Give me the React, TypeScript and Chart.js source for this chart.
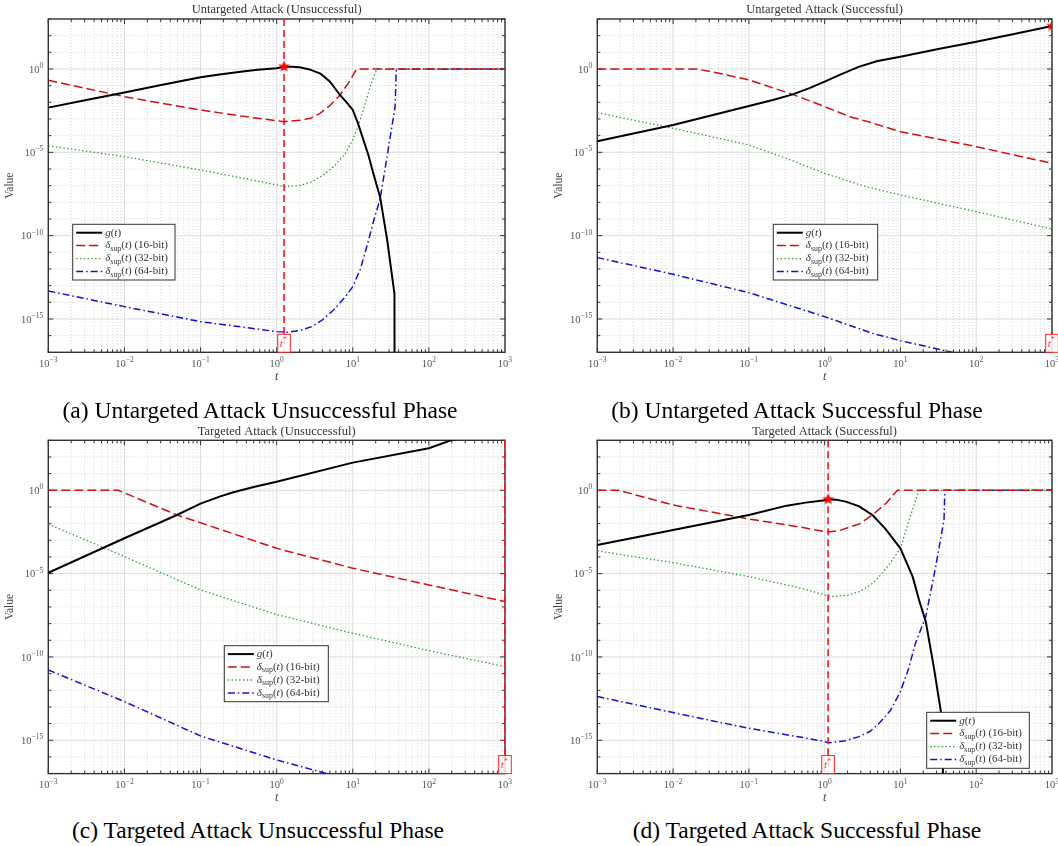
import React, { useEffect, useRef } from 'react';
import { Chart, registerables } from 'chart.js';
Chart.register(...registerables);

// ---------- axes ----------
const X_MIN = 1e-3;
const X_MAX = 1e3;
const Y_MIN = 1e-17;
const Y_MAX = 1e3;
const X_TICKS = [1e-3, 1e-2, 1e-1, 1, 1e1, 1e2, 1e3];
const Y_TICKS = [1e-15, 1e-10, 1e-5, 1];

const SERIES_NAMES = ['g(t)', 'δsup(t) (16-bit)', 'δsup(t) (32-bit)', 'δsup(t) (64-bit)'];
const PANEL_TITLES = [
  'Untargeted Attack (Unsuccessful)',
  'Untargeted Attack (Successful)',
  'Targeted Attack (Unsuccessful)',
  'Targeted Attack (Successful)',
];
const CAPTIONS = [
  '(a) Untargeted Attack Unsuccessful Phase',
  '(b) Untargeted Attack Successful Phase',
  '(c) Targeted Attack Unsuccessful Phase',
  '(d) Targeted Attack Successful Phase',
];

// ---------- (a) Untargeted Attack (Unsuccessful) ----------
const A_G_T = [0.001, 0.00316, 0.01, 0.0316, 0.1, 0.178, 0.316, 0.562, 1, 1.25, 1.6, 2, 2.8, 3.7, 5, 6.8, 8.3, 10, 11.8, 13.8, 16, 18.6, 22.9, 28.2, 35.3, 36];
const A_G_V = [4.8e-3, 1.38e-2, 3.9e-2, 0.112, 0.316, 0.468, 0.66, 0.891, 1.12, 1.38, 1.35, 1.26, 0.89, 0.55, 0.178, 2.75e-2, 1.0e-2, 3.47e-3, 5e-4, 5.5e-5, 7.1e-6, 5.5e-7, 2.0e-8, 6.3e-11, 3.2e-14, 1e-40];
const A_R_T = [0.001, 0.01, 0.1, 0.316, 0.562, 1, 1.25, 2, 2.8, 3.7, 5, 6.8, 8.9, 11.2, 1000];
const A_R_V = [0.209, 2.19e-2, 3.47e-3, 1.58e-3, 1.1e-3, 7.9e-4, 6.9e-4, 8.3e-4, 1.12e-3, 2.19e-3, 6.3e-3, 2.75e-2, 0.158, 1, 1];
const A_P_T = [0.001, 0.01, 0.1, 0.316, 1, 1.25, 2, 2.9, 4, 5.6, 7.9, 10, 11.8, 13.8, 16.9, 20.7, 1000];
const A_P_V = [2.5e-5, 5.5e-6, 8.7e-7, 3.16e-7, 1.1e-7, 8.7e-8, 1e-7, 1.74e-7, 4e-7, 1.38e-6, 7.9e-6, 5.5e-5, 4e-4, 3.47e-3, 8.7e-2, 1, 1];
const A_D_T = [0.001, 0.01, 0.1, 0.316, 1, 1.35, 2, 2.9, 4, 5.6, 7.9, 10, 12.6, 15.3, 19.1, 22.9, 28.8, 36, 37.3, 1000];
const A_D_V = [4.8e-14, 5.5e-15, 6.9e-16, 3.5e-16, 1.74e-16, 1.58e-16, 2e-16, 3.47e-16, 8.9e-16, 3.47e-15, 2e-14, 8.7e-14, 1e-12, 2.19e-11, 1e-9, 1.58e-8, 1e-5, 5.5e-3, 1, 1];
const A_TSTAR = 1.25;
const A_GSTAR = 1.38;

// ---------- (b) Untargeted Attack (Successful) ----------
const B_G_T = [0.001, 0.01, 0.1, 0.207, 0.38, 0.63, 1, 1.58, 2.86, 5, 10, 31.6, 100, 316, 1000];
const B_G_V = [4.57e-5, 4.37e-4, 6.0e-3, 1.38e-2, 3.0e-2, 7.1e-2, 0.174, 0.447, 1.38, 3.0, 5.5, 15.8, 43.7, 126, 380];
const B_R_T = [0.001, 0.0204, 0.04, 0.1, 0.38, 1, 2.14, 4, 10, 100, 1000];
const B_R_V = [1, 1, 0.562, 0.219, 3.0e-2, 5.5e-3, 1.38e-3, 6.3e-4, 1.74e-4, 2.19e-5, 2.19e-6];
const B_P_T = [0.001, 0.01, 0.1, 0.31, 1, 3.16, 10, 100, 1000];
const B_P_V = [2.4e-3, 2.75e-4, 2.75e-5, 4.37e-6, 5.5e-7, 1e-7, 2.75e-8, 2.75e-9, 2.5e-10];
const B_D_T = [0.001, 0.01, 0.1, 1, 4.27, 10, 47.9, 100, 1000];
const B_D_V = [4.8e-12, 4.8e-13, 3.8e-14, 1.38e-15, 1.38e-16, 5e-17, 1e-17, 5e-18, 1e-18];
const B_TSTAR = 1000;
const B_GSTAR = 380;

// ---------- (c) Targeted Attack (Unsuccessful) ----------
const C_G_T = [0.001, 0.01, 0.049, 0.1, 0.178, 0.27, 0.5, 1, 10, 100, 190, 1000];
const C_G_V = [1.12e-5, 1.32e-3, 3.3e-2, 0.158, 0.417, 0.759, 1.585, 3.3, 45.7, 331, 955, 6300];
const C_R_T = [0.001, 0.0083, 0.049, 0.1, 1, 10, 100, 1000];
const C_R_V = [1, 1, 3.3e-2, 1.12e-2, 3.3e-4, 2.1e-5, 2.1e-6, 2.1e-7];
const C_P_T = [0.001, 0.01, 0.1, 1, 10, 100, 1000];
const C_P_V = [9.5e-3, 1.05e-4, 1.05e-6, 3.5e-8, 2.63e-9, 2.4e-10, 2.63e-11];
const C_D_T = [0.001, 0.01, 0.1, 1, 4.07, 10, 1000];
const C_D_V = [1.66e-11, 2.1e-13, 1.82e-15, 6.6e-17, 1.15e-17, 4e-18, 3.2e-20];
const C_TSTAR = 1000;
const C_GSTAR = null;

// ---------- (d) Targeted Attack (Successful) ----------
const D_G_T = [0.001, 0.01, 0.1, 0.316, 0.562, 1, 1.11, 1.41, 1.9, 2.82, 4.27, 6.3, 10, 14.5, 17.6, 21.6, 27.5, 33.9, 36.3, 36.7];
const D_G_V = [5.2e-4, 4.2e-3, 3.3e-2, 0.12, 0.182, 0.251, 0.288, 0.275, 0.209, 0.112, 3.3e-2, 5e-3, 3.3e-4, 6.6e-6, 2.63e-7, 1.32e-8, 2.63e-11, 6.6e-14, 5e-15, 1e-40];
const D_R_T = [0.001, 0.0019, 0.01, 0.068, 0.1, 0.5, 1, 1.11, 1.55, 2.86, 4.27, 6.46, 9.1, 1000];
const D_R_V = [1, 1, 0.132, 2.63e-2, 1.9e-2, 6.0e-3, 3.3e-3, 3.16e-3, 3.8e-3, 9.5e-3, 3.3e-2, 0.166, 1, 1];
const D_P_T = [0.001, 0.01, 0.1, 0.5, 1, 1.26, 2, 2.86, 4, 5.25, 7.24, 10, 13, 17.6, 1000];
const D_P_V = [2.3e-4, 4.57e-5, 6.6e-6, 1.3e-6, 5.2e-7, 4.2e-7, 5e-7, 8.3e-7, 2e-6, 6.6e-6, 4e-5, 3.3e-4, 1.66e-2, 1, 1];
const D_D_T = [0.001, 0.01, 0.1, 0.5, 1, 1.15, 1.78, 2.86, 4, 5.25, 7.4, 10, 12.6, 15.8, 21.6, 29.2, 37.6, 38.5, 1000];
const D_D_V = [4.2e-13, 4.57e-14, 5.2e-15, 1.5e-15, 8.3e-16, 7.2e-16, 8.9e-16, 1.66e-15, 3.5e-15, 1.05e-14, 6.3e-14, 8.3e-13, 1.58e-11, 6.6e-10, 2.63e-8, 2.63e-5, 1.66e-2, 1, 1];
const D_TSTAR = 1.11;
const D_GSTAR = 0.288;

// ---------- styles ----------
const FONT = "'Liberation Serif', 'Times New Roman', serif";
const STYLES = [
  { color: '#000000', width: 2, dash: [] as number[] },
  { color: '#cc1111', width: 1.5, dash: [9, 4] },
  { color: '#2a9a2a', width: 1.3, dash: [1.4, 2.4] },
  { color: '#1212c8', width: 1.5, dash: [7, 3, 1.5, 3] },
];
const VLINE = { color: '#ff1010', width: 1.6, dash: [7, 4] };

const pts = (t: number[], v: number[]) => t.map((x, i) => ({ x, y: v[i] }));

const PANELS = [
  {
    title: PANEL_TITLES[0], caption: CAPTIONS[0],
    series: [pts(A_G_T, A_G_V), pts(A_R_T, A_R_V), pts(A_P_T, A_P_V), pts(A_D_T, A_D_V)],
    tStar: A_TSTAR, gStar: A_GSTAR,
    canvas: { x: 0, y: 0, w: 530, h: 392 },
    area: { l: 48.3, t: 19, r: 505, b: 352.3 },
    legend: { dx: 24.4, dy: 205.3, w: 102.3, h: 55.7 },
    cap: { x: 260, y: 398 },
  },
  {
    title: PANEL_TITLES[1], caption: CAPTIONS[1],
    series: [pts(B_G_T, B_G_V), pts(B_R_T, B_R_V), pts(B_P_T, B_P_V), pts(B_D_T, B_D_V)],
    tStar: B_TSTAR, gStar: B_GSTAR,
    canvas: { x: 549, y: 0, w: 509, h: 392 },
    area: { l: 597.3, t: 19, r: 1053.3, b: 352.3 },
    legend: { dx: 176, dy: 205.3, w: 104.4, h: 55.7 },
    cap: { x: 797, y: 398 },
  },
  {
    title: PANEL_TITLES[2], caption: CAPTIONS[2],
    series: [pts(C_G_T, C_G_V), pts(C_R_T, C_R_V), pts(C_P_T, C_P_V), pts(C_D_T, C_D_V)],
    tStar: C_TSTAR, gStar: C_GSTAR,
    canvas: { x: 0, y: 421, w: 530, h: 392 },
    area: { l: 48.3, t: 440.3, r: 505, b: 773.6 },
    legend: { dx: 176, dy: 205.4, w: 104, h: 56 },
    cap: { x: 258, y: 818 },
  },
  {
    title: PANEL_TITLES[3], caption: CAPTIONS[3],
    series: [pts(D_G_T, D_G_V), pts(D_R_T, D_R_V), pts(D_P_T, D_P_V), pts(D_D_T, D_D_V)],
    tStar: D_TSTAR, gStar: D_GSTAR,
    canvas: { x: 549, y: 421, w: 509, h: 392 },
    area: { l: 597.3, t: 440.3, r: 1053.3, b: 773.6 },
    legend: { dx: 329.4, dy: 272, w: 102.6, h: 56 },
    cap: { x: 807, y: 818 },
  },
];

const expOf = (v: number) => {
  const e = Math.round(Math.log10(v));
  return e < 0 ? '−' + String(-e) : String(e);
};

function makeStar(r: number) {
  const c = document.createElement('canvas');
  const s = Math.ceil(r * 2 + 2);
  c.width = s;
  c.height = s;
  const g = c.getContext('2d')!;
  g.fillStyle = '#ff0000';
  g.beginPath();
  for (let i = 0; i < 10; i++) {
    const rr = i % 2 === 0 ? r : r * 0.42;
    const ang = -Math.PI / 2 + (i * Math.PI) / 5;
    const px = s / 2 + rr * Math.cos(ang);
    const py = s / 2 + rr * Math.sin(ang);
    if (i === 0) g.moveTo(px, py);
    else g.lineTo(px, py);
  }
  g.closePath();
  g.fill();
  return c;
}

type Run = { t: string; italic?: boolean; sub?: boolean; sup?: boolean };
function runSize(r: Run, size: number) {
  return r.sub || r.sup ? size * 0.72 : size;
}
function runsWidth(ctx: CanvasRenderingContext2D, runs: Run[], size: number) {
  let w = 0;
  for (const r of runs) {
    ctx.font = `${r.italic ? 'italic ' : ''}${runSize(r, size)}px ${FONT}`;
    w += ctx.measureText(r.t).width;
  }
  return w;
}
function drawRuns(ctx: CanvasRenderingContext2D, x: number, y: number, runs: Run[], size: number) {
  let cx = x;
  for (const r of runs) {
    ctx.font = `${r.italic ? 'italic ' : ''}${runSize(r, size)}px ${FONT}`;
    const dy = r.sub ? size * 0.28 : r.sup ? -size * 0.38 : 0;
    ctx.fillText(r.t, cx, y + dy);
    cx += ctx.measureText(r.t).width + (r.sup ? 0.5 : 0);
  }
}
const LEGEND_RUNS: Run[][] = [
  [{ t: 'g', italic: true }, { t: '(' }, { t: 't', italic: true }, { t: ')' }],
  [{ t: 'δ', italic: true }, { t: 'sup', sub: true }, { t: '(' }, { t: 't', italic: true }, { t: ') (16-bit)' }],
  [{ t: 'δ', italic: true }, { t: 'sup', sub: true }, { t: '(' }, { t: 't', italic: true }, { t: ') (32-bit)' }],
  [{ t: 'δ', italic: true }, { t: 'sup', sub: true }, { t: '(' }, { t: 't', italic: true }, { t: ') (64-bit)' }],
];

function line(ctx: CanvasRenderingContext2D, x1: number, y1: number, x2: number, y2: number) {
  ctx.beginPath();
  ctx.moveTo(x1, y1);
  ctx.lineTo(x2, y2);
  ctx.stroke();
}

function Panel({ cfg }: { cfg: any }) {
  const ref = useRef<HTMLCanvasElement>(null);
  useEffect(() => {
    const YW = 40;
    const XH = 20;
    const cv = cfg.canvas;
    const ar = cfg.area;
    const padding = {
      left: ar.l - cv.x - YW,
      top: ar.t - cv.y,
      right: cv.x + cv.w - ar.r,
      bottom: cv.y + cv.h - ar.b - XH,
    };

    const datasets: any[] = [];
    if (cfg.gStar !== null) {
      datasets.push({
        label: 'star',
        data: [{ x: cfg.tStar, y: cfg.gStar }],
        showLine: false,
        pointRadius: 6,
        pointStyle: makeStar(6.2),
        borderWidth: 0,
      });
    }
    datasets.push({
      label: 't*',
      data: [{ x: cfg.tStar, y: Y_MAX }, { x: cfg.tStar, y: Y_MIN }],
      borderColor: VLINE.color,
      borderWidth: VLINE.width,
      borderDash: VLINE.dash,
      pointRadius: 0,
    });
    cfg.series.forEach((d: any, i: number) => {
      datasets.push({
        label: SERIES_NAMES[i],
        data: d,
        borderColor: STYLES[i].color,
        borderWidth: STYLES[i].width,
        borderDash: STYLES[i].dash,
        borderJoinStyle: 'round',
        pointRadius: 0,
        tension: 0,
        fill: false,
      });
    });

    const deco = {
      id: 'deco',
      beforeDatasetsDraw(chart: any) {
        const { ctx, chartArea: a, scales } = chart;
        const x = scales.x;
        const y = scales.y;
        ctx.save();
        // minor x grid (dotted)
        ctx.strokeStyle = '#c4c4c4';
        ctx.lineWidth = 0.7;
        ctx.setLineDash([1, 2]);
        for (let e = -3; e < 3; e++) {
          for (let k = 2; k <= 9; k++) {
            const px = x.getPixelForValue(k * Math.pow(10, e));
            line(ctx, px, a.top, px, a.bottom);
          }
        }
        // minor y grid (dotted, each decade)
        for (let e = -17; e <= 3; e++) {
          if (e % 5 === 0) continue;
          const py = y.getPixelForValue(Math.pow(10, e));
          line(ctx, a.left, py, a.right, py);
        }
        // major grid
        ctx.setLineDash([]);
        ctx.strokeStyle = '#dcdcdc';
        ctx.lineWidth = 1;
        X_TICKS.forEach((v) => {
          const px = x.getPixelForValue(v);
          line(ctx, px, a.top, px, a.bottom);
        });
        Y_TICKS.forEach((v) => {
          const py = y.getPixelForValue(v);
          line(ctx, a.left, py, a.right, py);
        });
        // tick marks
        ctx.strokeStyle = '#333';
        ctx.lineWidth = 1;
        for (let e = -3; e < 3; e++) {
          for (let k = 1; k <= 9; k++) {
            const px = x.getPixelForValue(k * Math.pow(10, e));
            const len = k === 1 ? 5 : 3;
            line(ctx, px, a.bottom, px, a.bottom - len);
            line(ctx, px, a.top, px, a.top + len);
          }
        }
        for (let e = -17; e <= 3; e++) {
          const py = y.getPixelForValue(Math.pow(10, e));
          const len = e % 5 === 0 ? 5 : 3;
          line(ctx, a.left, py, a.left + len, py);
          line(ctx, a.right, py, a.right - len, py);
        }
        // frame
        ctx.strokeStyle = '#333';
        ctx.lineWidth = 1.4;
        ctx.strokeRect(a.left, a.top, a.right - a.left, a.bottom - a.top);

        // tick labels (10 with superscript exponent)
        ctx.fillStyle = '#555';
        ctx.textAlign = 'left';
        ctx.textBaseline = 'middle';
        X_TICKS.forEach((v) => {
          const px = x.getPixelForValue(v);
          const runs: Run[] = [{ t: '10' }, { t: expOf(v), sup: true }];
          const w = runsWidth(ctx, runs, 10.5);
          drawRuns(ctx, px - w / 2, a.bottom + 12, runs, 10.5);
        });
        Y_TICKS.forEach((v) => {
          const py = y.getPixelForValue(v);
          const runs: Run[] = [{ t: '10' }, { t: expOf(v), sup: true }];
          const w = runsWidth(ctx, runs, 10.5);
          drawRuns(ctx, a.left - 5 - w, py + 1, runs, 10.5);
        });
        ctx.restore();
      },
      afterDatasetsDraw(chart: any) {
        const { ctx, chartArea: a, scales } = chart;
        const x = scales.x;
        ctx.save();
        // t* box
        const tx = x.getPixelForValue(cfg.tStar);
        ctx.fillStyle = 'rgba(255,255,255,0.85)';
        ctx.fillRect(tx - 6.3, a.bottom - 18, 12.6, 18);
        ctx.strokeStyle = '#ff2020';
        ctx.lineWidth = 1;
        ctx.setLineDash([]);
        ctx.strokeRect(tx - 6.3, a.bottom - 18, 12.6, 18);
        ctx.fillStyle = '#ff3030';
        ctx.textBaseline = 'middle';
        ctx.textAlign = 'left';
        drawRuns(ctx, tx - 4.2, a.bottom - 8, [{ t: 't', italic: true }, { t: '*', sup: true }], 11);

        // legend
        const L = cfg.legend;
        const lx = a.left + L.dx;
        const ly = a.top + L.dy;
        ctx.fillStyle = '#ffffff';
        ctx.fillRect(lx, ly, L.w, L.h);
        ctx.strokeStyle = '#333';
        ctx.lineWidth = 1;
        ctx.strokeRect(lx, ly, L.w, L.h);
        const rows = [8.4, 21.3, 34.3, 47.3];
        rows.forEach((ry, i) => {
          const st = STYLES[i];
          ctx.strokeStyle = st.color;
          ctx.lineWidth = st.width;
          ctx.setLineDash(st.dash);
          line(ctx, lx + 3.5, ly + ry, lx + 29.5, ly + ry);
          ctx.setLineDash([]);
          ctx.fillStyle = '#333';
          ctx.textBaseline = 'middle';
          drawRuns(ctx, lx + 32.5, ly + ry, LEGEND_RUNS[i], 11);
        });

        // title
        ctx.fillStyle = '#333';
        ctx.textAlign = 'center';
        ctx.textBaseline = 'middle';
        ctx.font = `12.5px ${FONT}`;
        ctx.fillText(cfg.title, (a.left + a.right) / 2, a.top - 9);
        // axis titles
        ctx.font = `italic 12px ${FONT}`;
        ctx.fillStyle = '#444';
        ctx.fillText('t', (a.left + a.right) / 2, a.bottom + 24.4);
        ctx.save();
        ctx.translate(a.left - 38.8, (a.top + a.bottom) / 2);
        ctx.rotate(-Math.PI / 2);
        ctx.font = `11.5px ${FONT}`;
        ctx.fillText('Value', 0, 0);
        ctx.restore();
        ctx.restore();
      },
    };

    const chart = new Chart(ref.current as HTMLCanvasElement, {
      type: 'line',
      data: { datasets },
      options: {
        animation: false,
        responsive: false,
        events: [],
        layout: { padding },
        plugins: { legend: { display: false }, title: { display: false }, tooltip: { enabled: false } },
        elements: { point: { radius: 0 } },
        scales: {
          x: {
            type: 'logarithmic',
            position: 'bottom',
            min: X_MIN,
            max: X_MAX,
            grid: { display: false, drawTicks: false },
            border: { display: false },
            ticks: { display: false, autoSkip: false },
            afterBuildTicks: (s: any) => { s.ticks = X_TICKS.map((value) => ({ value })); },
            afterFit: (s: any) => { s.height = XH; s.paddingLeft = 0; s.paddingRight = 0; },
          },
          y: {
            type: 'logarithmic',
            position: 'left',
            min: Y_MIN,
            max: Y_MAX,
            grid: { display: false, drawTicks: false },
            border: { display: false },
            ticks: { display: false, autoSkip: false },
            afterBuildTicks: (s: any) => { s.ticks = Y_TICKS.map((value) => ({ value })); },
            afterFit: (s: any) => { s.width = YW; s.paddingTop = 0; s.paddingBottom = 0; },
          },
        },
      } as any,
      plugins: [deco],
    });
    return () => chart.destroy();
  }, []);
  const cv = cfg.canvas;
  return (
    <canvas
      ref={ref}
      width={cv.w}
      height={cv.h}
      style={{ position: 'absolute', left: cv.x, top: cv.y, width: cv.w, height: cv.h }}
    />
  );
}

export default function App() {
  return (
    <div style={{ position: 'absolute', left: 0, top: 0, width: 1058, height: 846, overflow: 'hidden', background: '#fff' }}>
      {PANELS.map((p, i) => (
        <Panel key={i} cfg={p} />
      ))}
      {PANELS.map((p, i) => (
        <div
          key={'cap' + i}
          style={{
            position: 'absolute',
            left: p.cap.x,
            top: p.cap.y,
            transform: 'translateX(-50%)',
            whiteSpace: 'nowrap',
            fontFamily: FONT,
            fontSize: 23.5,
            lineHeight: '24px',
            color: '#000',
          }}
        >
          {p.caption}
        </div>
      ))}
    </div>
  );
}
